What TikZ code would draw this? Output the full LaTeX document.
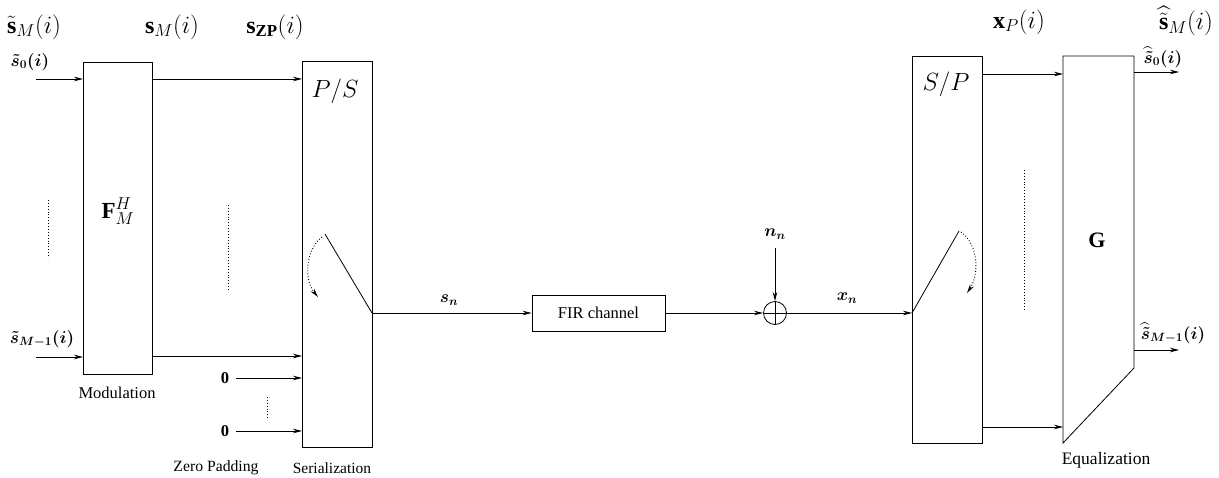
\documentclass[tikz,border=0pt]{standalone}
\usepackage{amsmath,amssymb,bm}
\usepackage{fontspec}
\setmainfont{Liberation Serif}
\usetikzlibrary{arrows.meta}
\begin{document}
\begin{tikzpicture}[x=1pt,y=-1pt, line width=0.8pt,
  box/.style={draw, inner sep=0pt, anchor=north west},
  arr/.style={-{Stealth[length=9pt,width=4.5pt]}},
  dots/.style={dotted, line width=0.9pt},
  lbl/.style={font=\fontsize{16.5}{19}\selectfont},
  big/.style={font=\fontsize{24}{28}\selectfont, inner sep=1pt},
  sm/.style={font=\fontsize{16.5}{19}\selectfont\boldmath, inner sep=1pt},
  huge/.style={font=\fontsize{33}{38}\selectfont}]
\useasboundingbox (0,0) rectangle (1219,478);

% boxes
\node[box, minimum width=69pt, minimum height=312pt] (mod) at (83,62) {};
\node[box, minimum width=70pt, minimum height=386pt] (ps) at (302,61) {};
\node[box, minimum width=133pt, minimum height=36pt, anchor=center, lbl] (fir) at (598.5,313) {FIR channel};
\node[draw, circle, minimum size=23pt, inner sep=0pt,
  path picture={\draw (path picture bounding box.north) -- (path picture bounding box.south)
                (path picture bounding box.west) -- (path picture bounding box.east);}] (add) at (775,313) {};
\node[box, minimum width=70pt, minimum height=387pt] (sp) at (912,56) {};
\coordinate (g1) at (1063,56);
\coordinate (g2) at (1134,56);
\coordinate (g3) at (1134,368);
\coordinate (g4) at (1063,443);
\draw (g1) -- (g2) -- (g3) -- (g4) -- cycle;

% box labels
\node[font=\fontsize{23}{27}\selectfont] (flbl) at (118,211) {$\mathbf{F}_M^H$};
\node[huge] (pslbl) at (335,91) {$P/S$};
\node[huge] (splbl) at (946,84) {$S/P$};
\node[font=\fontsize{22}{26}\selectfont] (glbl) at (1097,240) {$\mathbf{G}$};

% top labels
\node[big] (t1) at (34,27) {$\tilde{\mathbf{s}}_M(i)$};
\node[big] (t2) at (172,27) {$\mathbf{s}_M(i)$};
\node[big] (t3) at (275,27) {$\mathbf{s}_{\mathbf{ZP}}(i)$};
\node[big] (t4) at (1019,22) {$\mathbf{x}_P(i)$};
\node[big] (t5) at (1186,21) {$\widehat{\tilde{\mathbf{s}}}_M(i)$};

% inputs
\coordinate (in0) at (36,79);
\coordinate (inM) at (36,357);
\node[sm] (l0) at (30,62) {$\tilde{s}_0(i)$};
\node[sm] (lM) at (42,339) {$\tilde{s}_{M-1}(i)$};
\draw[arr] (in0) -- (in0 -| mod.west);
\draw[arr] (inM) -- (inM -| mod.west);
\draw[dots] (48,200) -- (48,258);

% modulation -> P/S
\coordinate (ya) at (0,79);
\coordinate (yb) at (0,356);
\draw[arr] (mod.east |- ya) -- (ps.west |- ya);
\draw[arr] (mod.east |- yb) -- (ps.west |- yb);
\draw[dots] (228,205) -- (228,290);

% zero padding
\node[lbl, font=\fontsize{16.5}{19}\selectfont\bfseries] (z1) at (225,378) {0};
\node[lbl, font=\fontsize{16.5}{19}\selectfont\bfseries] (z2) at (225,431) {0};
\draw[arr] (z1.east) ++(3,0) coordinate (z1s) -- (z1s -| ps.west);
\draw[arr] (z2.east) ++(3,0) coordinate (z2s) -- (z2s -| ps.west);
\draw[dots] (267,397) -- (267,420);

% P/S switch
\coordinate (piv) at (372,313);
\coordinate (swe) at (325,234);
\draw (piv) -- (swe);
\draw[dots, arr] (322,237) .. controls (305,250) and (304,280) .. (318,297);

% channel
\draw[arr] (piv) -- (fir.west);
\node[sm, font=\fontsize{17}{19}\selectfont\boldmath] (snl) at (449,300) {$s_n$};
\draw[arr] (fir.east) -- (add.west);
\node[sm, font=\fontsize{17}{19}\selectfont\boldmath] (nnl) at (775,234) {$n_n$};
\coordinate (nns) at (775,248);
\draw[arr] (nns) -- (add.north);
\coordinate (sppiv) at (912,313);
\draw[arr] (add.east) -- (sppiv);
\node[sm, font=\fontsize{17}{19}\selectfont\boldmath] (xnl) at (847,298) {$x_n$};

% S/P switch
\coordinate (swe2) at (959,231);
\draw (sppiv) -- (swe2);
\draw[dots, arr] (961,232) .. controls (979,245) and (979,275) .. (967,293);

% S/P -> G
\coordinate (yc) at (0,74);
\coordinate (yd) at (0,427);
\draw[arr] (sp.east |- yc) -- (g1 |- yc);
\draw[arr] (sp.east |- yd) -- (g1 |- yd);
\draw[dots] (1024,170) -- (1024,310);

% outputs
\coordinate (o0) at (1179,72);
\coordinate (oM) at (1179,350);
\draw[arr] (g2 |- o0) -- (o0);
\draw[arr] (g2 |- oM) -- (oM);
\node[sm] (lo0) at (1163,57) {$\widehat{\tilde{s}}_0(i)$};
\node[sm] (loM) at (1173,333) {$\widehat{\tilde{s}}_{M-1}(i)$};

% captions
\node[lbl] (cmod) at (117,393) {Modulation};
\node[lbl, font=\fontsize{15.7}{19}\selectfont] (czp) at (216,468) {Zero Padding};
\node[lbl, font=\fontsize{15.5}{19}\selectfont] (cser) at (332,468) {Serialization};
\node[lbl, font=\fontsize{17.5}{19}\selectfont] (ceq) at (1106,460) {Equalization};
\end{tikzpicture}
\end{document}
